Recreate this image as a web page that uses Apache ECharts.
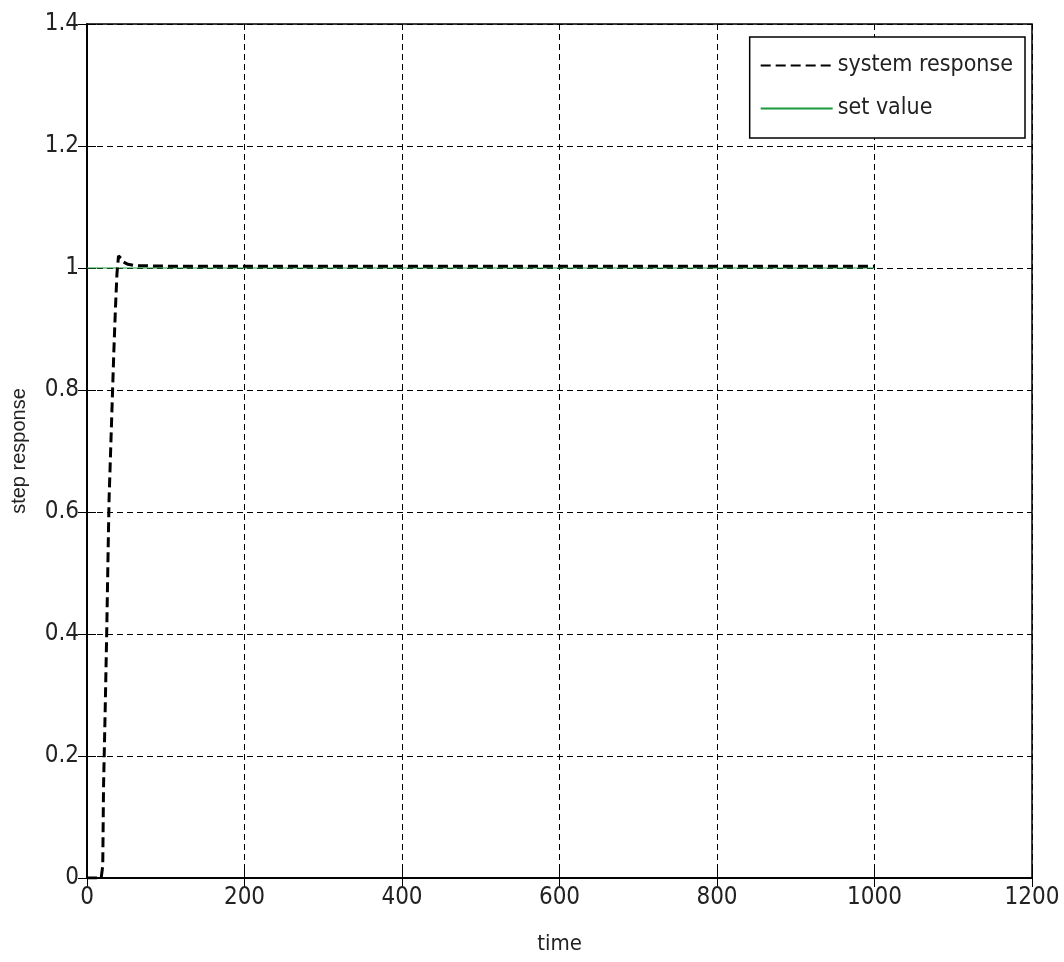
<!DOCTYPE html>
<html><head><meta charset="utf-8">
<script src="https://cdn.jsdelivr.net/npm/echarts@6/dist/echarts.min.js"></script>
<style>html,body{margin:0;padding:0;background:#fff}#c{width:1064px;height:962px}</style>
</head><body><div id="c"></div>
<script>
const xTicks = [0, 200, 400, 600, 800, 1000, 1200];
const yTicks = [0, 0.2, 0.4, 0.6, 0.8, 1, 1.2, 1.4];
const seriesNames = ['system response', 'set value'];
const respT = [0, 18, 20, 21, 23, 25, 27, 28, 30, 32, 34, 36, 38, 40, 42, 44, 46, 48, 52, 60, 100, 300, 600, 1000];
const respY = [0, 0, 0.02, 0.15, 0.27, 0.40, 0.55, 0.62, 0.70, 0.78, 0.86, 0.93, 0.99, 1.02, 1.022, 1.015, 1.010, 1.012, 1.006, 1.004, 1.003, 1.003, 1.003, 1.003];
const setT = [0, 1000];
const setY = [1, 1];

const font = '"DejaVu Sans Condensed", "Liberation Sans Narrow", "Liberation Sans", Arial, sans-serif';
const chart = echarts.init(document.getElementById('c'));
const axisCommon = {
  min: 0,
  axisLine: {show: true, lineStyle: {color: '#000', width: 1.5}},
  axisTick: {show: true, inside: true, length: 9, lineStyle: {color: '#000', width: 1}},
  splitLine: {show: true, lineStyle: {color: '#000', type: [6, 4], width: 1}},
};
chart.setOption({
  animation: false,
  backgroundColor: '#fff',
  grid: {left: 87, right: 32, top: 24, bottom: 84, containLabel: false, outerBoundsMode: 'none', show: true, borderColor: '#000', borderWidth: 1.5, backgroundColor: 'transparent'},
  legend: {
    data: seriesNames,
    orient: 'vertical',
    right: 39, top: 37,
    backgroundColor: '#fff',
    borderColor: '#000', borderWidth: 1.5,
    padding: [17, 12, 18, 10],
    itemWidth: 72, itemHeight: 22, itemGap: 20,
    itemStyle: {opacity: 0},
    textStyle: {fontFamily: font, fontSize: 23, color: '#222'}
  },
  xAxis: [
    Object.assign({}, axisCommon, {
      type: 'value', max: 1200, interval: 200,
      name: 'time', nameLocation: 'middle', nameGap: 55,
      nameTextStyle: {fontFamily: font, fontSize: 22, color: '#222'},
      axisLabel: {fontFamily: font, fontSize: 24, color: '#222', margin: 8, formatter: v => xTicks.includes(v) ? String(v) : ''}
    }),
    Object.assign({}, axisCommon, {
      type: 'value', max: 1200, interval: 200, position: 'top',
      axisLabel: {show: false}, splitLine: {show: false}
    })
  ],
  yAxis: [
    Object.assign({}, axisCommon, {
      type: 'value', max: 1.4, interval: 0.2,
      name: 'step response', nameLocation: 'middle', nameGap: 58,
      nameTextStyle: {fontFamily: '"Liberation Sans", Arial, sans-serif', fontSize: 20, color: '#222'},
      axisLabel: {fontFamily: font, fontSize: 24, color: '#222', margin: 8, formatter: v => String(+v.toFixed(1))}
    }),
    Object.assign({}, axisCommon, {
      type: 'value', max: 1.4, interval: 0.2, position: 'right',
      axisLabel: {show: false}, splitLine: {show: false}
    })
  ],
  series: [
    {
      name: seriesNames[0], type: 'line', symbol: 'none',
      data: respT.map((t, i) => [t, respY[i]]),
      lineStyle: {color: '#000', width: 3, type: [10, 5]},
      itemStyle: {color: '#000'}, z: 3
    },
    {
      name: seriesNames[1], type: 'line', symbol: 'none',
      data: setT.map((t, i) => [t, setY[i]]),
      lineStyle: {color: '#1a9a3a', width: 1.2},
      itemStyle: {color: '#1a9a3a'}, z: 2
    }
  ]
});
</script></body></html>
